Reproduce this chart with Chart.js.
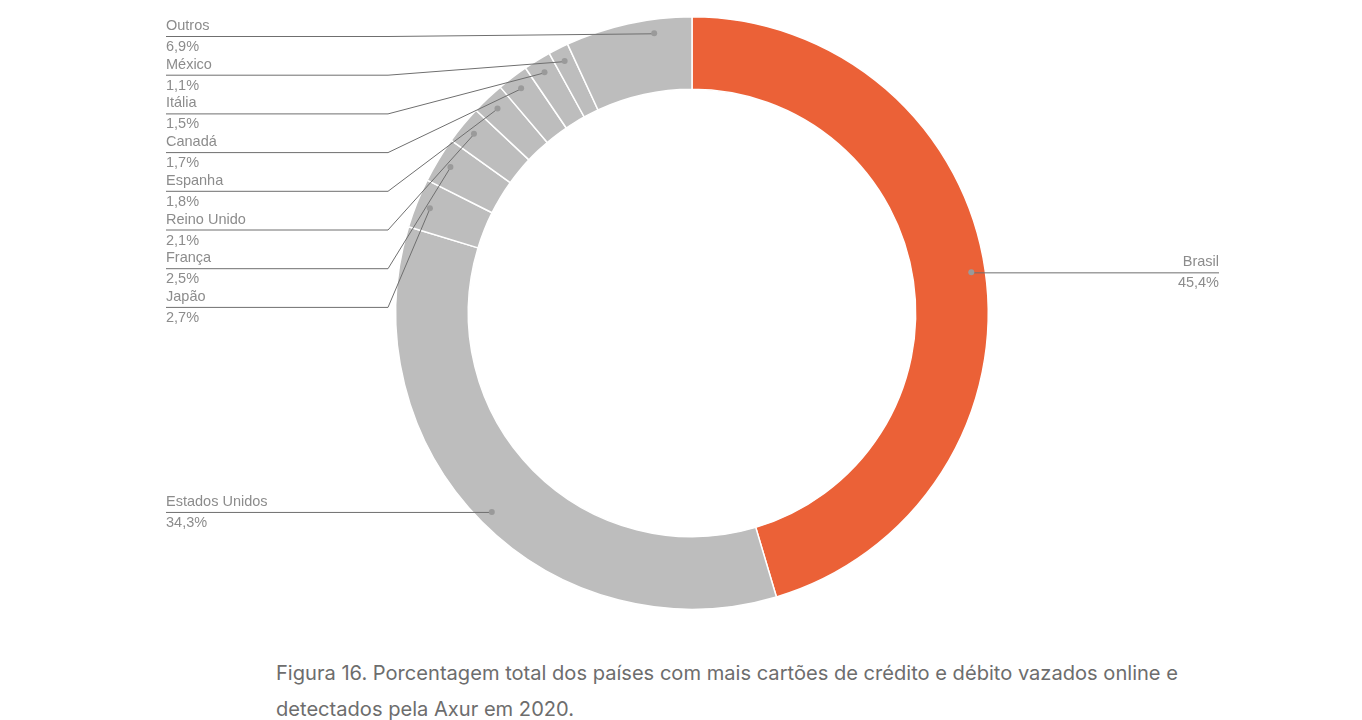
<!DOCTYPE html>
<html>
<head>
<meta charset="utf-8">
<script src="https://cdn.jsdelivr.net/npm/chart.js@4.4.0/dist/chart.umd.min.js"></script>
<style>
  body { margin: 0; background: #fff; width: 1362px; height: 720px; overflow: hidden; position: relative; }
  #wrap { position: absolute; left: 0; top: 0; width: 1362px; height: 640px; }
  #caption {
    position: absolute; left: 276px; top: 655px;
    font-family: Inter, "Noto Sans", sans-serif; font-size: 20.1px; line-height: 36px;
    color: #6d6d6d; white-space: nowrap;
  }
</style>
</head>
<body>
<div id="wrap"><canvas id="chart" width="1362" height="640"></canvas></div>
<div id="caption">Figura 16. Porcentagem total dos países com mais cartões de crédito e débito vazados online e<br>detectados pela Axur em 2020.</div>
<script>
// data
const countries = ['Brasil', 'Estados Unidos', 'Japão', 'França', 'Reino Unido', 'Espanha', 'Canadá', 'Itália', 'México', 'Outros'];
const shares = [45.4, 34.3, 2.7, 2.5, 2.1, 1.8, 1.7, 1.5, 1.1, 6.9];
const sliceColors = ['#EB6137', '#BDBDBD', '#BDBDBD', '#BDBDBD', '#BDBDBD', '#BDBDBD', '#BDBDBD', '#BDBDBD', '#BDBDBD', '#BDBDBD'];

const fmt = v => v.toFixed(1).replace('.', ',') + '%';

// leader lines + labels drawn after the arcs
const leaderLabels = {
  id: 'leaderLabels',
  afterDatasetsDraw(chart) {
    const ctx = chart.ctx;
    const arcs = chart.getDatasetMeta(0).data;
    ctx.save();
    ctx.font = '14.5px "Liberation Sans", Arial, sans-serif';
    arcs.forEach((arc, i) => {
      // Outros dot sits closer to the end of its slice
      const t = i === countries.length - 1 ? 0.69 : 0.5;
      const mid = arc.startAngle + (arc.endAngle - arc.startAngle) * t;
      const r = arc.outerRadius - 14;
      const px = arc.x + Math.cos(mid) * r;
      const py = arc.y + Math.sin(mid) * r;
      let lineY, pts, textX, align;
      if (i === 0) {
        lineY = py; textX = 1219; align = 'right';
        pts = [[px, py], [textX, py]];
      } else if (i === 1) {
        lineY = py; textX = 166; align = 'left';
        pts = [[textX, py], [px, py]];
      } else {
        // stacked on the left, Outros first
        const slot = countries.length - 1 - i;
        lineY = 36 + slot * 38.7; textX = 166; align = 'left';
        pts = [[textX, lineY], [388, lineY], [px, py]];
      }
      ctx.strokeStyle = '#6f6f6f';
      ctx.lineWidth = 1;
      ctx.beginPath();
      pts.forEach((p, k) => k ? ctx.lineTo(p[0], p[1] + 0.5) : ctx.moveTo(p[0], p[1] + 0.5));
      ctx.stroke();
      ctx.fillStyle = '#9a9a9a';
      ctx.beginPath();
      ctx.arc(px, py, 3, 0, Math.PI * 2);
      ctx.fill();
      ctx.fillStyle = '#8c8c8c';
      ctx.textAlign = align;
      ctx.textBaseline = 'middle';
      ctx.fillText(countries[i], textX, lineY - 10);
      ctx.fillText(fmt(shares[i]), textX, lineY + 11);
    });
    ctx.restore();
  }
};

new Chart(document.getElementById('chart'), {
  type: 'doughnut',
  data: {
    labels: countries,
    datasets: [{
      data: shares,
      backgroundColor: sliceColors,
      borderColor: '#ffffff',
      borderWidth: 1.5
    }]
  },
  options: {
    responsive: false,
    animation: false,
    cutout: '75.5%',
    layout: { padding: { left: 22, right: 0, top: 16, bottom: 30 } },
    plugins: { legend: { display: false }, tooltip: { enabled: false } }
  },
  plugins: [leaderLabels]
});
</script>
</body>
</html>
